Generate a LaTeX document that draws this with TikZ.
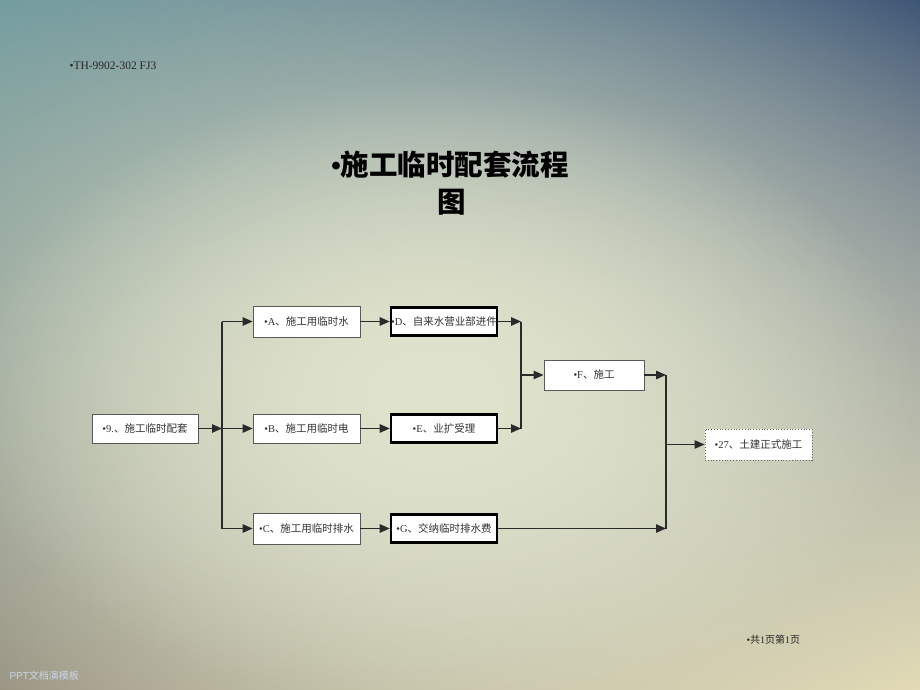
\documentclass[tikz,border=0pt]{standalone}
\usepackage{fontspec}
\setmainfont{Liberation Serif}
\setsansfont{Liberation Sans}
\newfontfamily\cjk{Noto Sans CJK SC}
\usetikzlibrary{arrows.meta,fadings,shadings}
\tikzfading[name=softglow, inner color=transparent!0, outer color=transparent!100]
\definecolor{bgTL}{HTML}{6A979C}
\definecolor{bgTR}{HTML}{3A5274}
\definecolor{bgBL}{HTML}{8A8272}
\definecolor{bgBR}{HTML}{E4DAB2}
\definecolor{bgC}{HTML}{E0E3CC}
\definecolor{wmc}{HTML}{C8D8EE}
\definecolor{lnc}{HTML}{2A2A2A}
\newcommand{\bxt}[2]{{\rmfamily #1}{\cjk #2}}
\tikzset{
  box/.style={draw=black!65, fill=white, line width=0.8pt, minimum width=107pt, minimum height=30pt, inner sep=0pt, font=\fontsize{10.5}{12}\selectfont, text=black!80},
  tbox/.style={box, draw=black, line width=2.6pt, minimum width=106pt, minimum height=28pt},
  dbox/.style={box, draw=black!60, dotted, line width=1pt},
  conn/.style={draw=lnc, line width=1.2pt},
  arr/.style={conn, -{Triangle[length=10pt,width=8.5pt]}}
}
\begin{document}
\begin{tikzpicture}[x=1pt,y=-1pt]
\useasboundingbox (0,0) rectangle (920,690);
% background
\shade[upper left=bgTL, upper right=bgTR, lower left=bgBL, lower right=bgBR] (0,0) rectangle (920,690);
\fill[bgC, path fading=softglow] (-320,-150) rectangle (1180,930);
\fill[bgC, path fading=softglow] (-40,80) rectangle (920,720);
% title
\node[font=\cjk\bfseries\fontsize{28.5}{34}\selectfont, anchor=center] (title1) at (450,165) {{\rmfamily •}施工临时配套流程};
\node[font=\cjk\bfseries\fontsize{28.5}{34}\selectfont, anchor=center] (title2) at (452,202) {图};
\node[anchor=west, font=\fontsize{11.5}{13}\selectfont, text=black!85] (hdr) at (66,66) {•TH-9902-302 FJ3};
\node[anchor=west, font=\fontsize{10}{12}\selectfont, text=black!85] (pg) at (743,640) {\bxt{•}{共}\bxt{1}{页第}\bxt{1}{页}};
\node[anchor=west, font=\sffamily\fontsize{10}{12}\selectfont, text=wmc] (wm) at (6,676) {PPT{\cjk 文档演模板}};
% boxes
\node[box, minimum width=106pt, minimum height=29pt] (n9) at (145,428.5) {\bxt{•9.}{、施工临时配套}};
\node[box, minimum height=31pt] (a) at (306.5,321.5) {\bxt{•A}{、施工用临时水}};
\node[box, minimum height=29pt] (b) at (306.5,428.5) {\bxt{•B}{、施工用临时电}};
\node[box, minimum height=31pt] (c) at (306.5,528.5) {\bxt{•C}{、施工用临时排水}};
\node[tbox] (d) at (444,321.5) {\bxt{•D}{、自来水营业部进件}};
\node[tbox] (e) at (444,428.5) {\bxt{•E}{、业扩受理}};
\node[tbox] (g) at (444,528.5) {\bxt{•G}{、交纳临时排水费}};
\node[box, minimum width=100pt, minimum height=30pt] (f) at (594,375) {\bxt{•F}{、施工}};
\node[dbox, minimum height=31pt] (t) at (758.5,444.5) {\bxt{•27}{、土建正式施工}};
% junctions
\coordinate (j0) at (222,428.5);
\coordinate (j1) at (222,321.5);
\coordinate (j3) at (222,528.5);
\coordinate (k1) at (521,321.5);
\coordinate (k2) at (521,428.5);
\coordinate (km) at (521,375);
\coordinate (m1) at (666,375);
\coordinate (m2) at (666,528.5);
\coordinate (mm) at (666,444.5);
% connectors
\draw[arr] (n9) -- (j0);
\draw[conn] (j1) -- (j3);
\draw[arr] (j1) -- (a);
\draw[arr] (j0) -- (b);
\draw[arr] (j3) -- (c);
\draw[arr] (a) -- (d);
\draw[arr] (b) -- (e);
\draw[arr] (c) -- (g);
\draw[arr] (d) -- (k1);
\draw[arr] (e) -- (k2);
\draw[conn] (k1) -- (k2);
\draw[arr] (km) -- (f);
\draw[arr] (f) -- (m1);
\draw[arr] (g) -- (m2);
\draw[conn] (m1) -- (m2);
\draw[arr] (mm) -- (t);
\end{tikzpicture}
\end{document}
